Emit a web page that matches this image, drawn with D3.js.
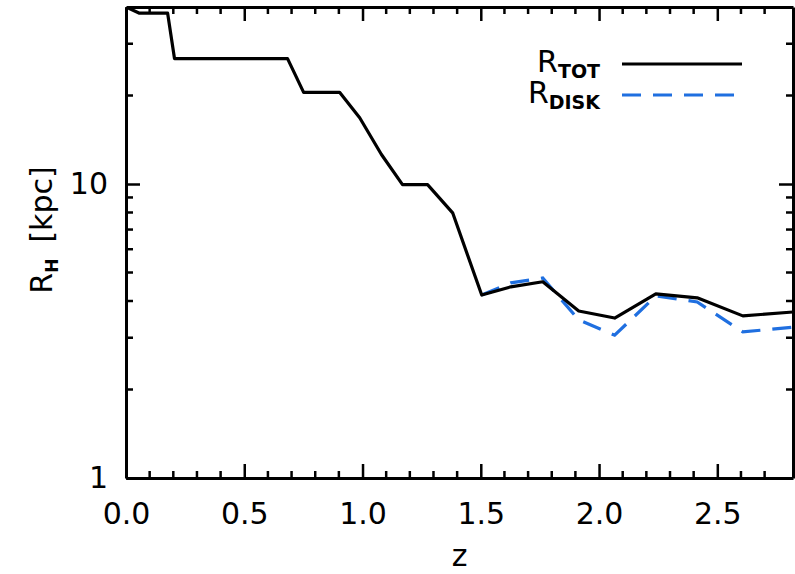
<!DOCTYPE html>
<html>
<head>
<meta charset="utf-8">
<script src="https://cdn.jsdelivr.net/npm/d3@7"></script>
<style>
  body { margin: 0; background: #fff; }
  svg text { font-family: "DejaVu Sans", sans-serif; fill: #000; }
</style>
</head>
<body>
<div id="chart"></div>
<script>
// R_tot vs redshift
const zTot = [0.0, 0.057, 0.176, 0.205, 0.683, 0.751, 0.903, 0.988, 1.080, 1.169, 1.275, 1.381, 1.504, 1.627, 1.762, 1.914, 2.066, 2.240, 2.415, 2.608, 2.82];
const rTot = [40, 38.1, 38.1, 26.7, 26.7, 20.5, 20.5, 16.8, 12.6, 9.95, 9.95, 7.98, 4.19, 4.47, 4.65, 3.70, 3.50, 4.23, 4.10, 3.56, 3.67];
// R_disk only exists from z ~ 1.5
const zDisk = [1.504, 1.627, 1.762, 1.914, 2.066, 2.240, 2.415, 2.608, 2.82];
const rDisk = [4.19, 4.61, 4.79, 3.45, 3.06, 4.16, 3.97, 3.14, 3.26];

const xTicks = [0.0, 0.5, 1.0, 1.5, 2.0, 2.5];
const yTicks = [1, 10];

const W = 795, H = 574;
const m = {left: 126, right: 2, top: 7, bottom: 96};

const svg = d3.select("#chart").append("svg")
  .attr("width", W)
  .attr("height", H);

const x = d3.scaleLinear()
  .domain([0, 2.82])
  .range([m.left, W - m.right]);
const y = d3.scaleLog()
  .domain([1, 40])
  .range([H - m.bottom, m.top]);

svg.append("defs").append("clipPath")
  .attr("id", "clip")
  .append("rect")
  .attr("x", m.left).attr("y", m.top)
  .attr("width", W - m.right - m.left)
  .attr("height", H - m.bottom - m.top);

const minorX = d3.range(0, 28).map(d => d / 10).filter(d => xTicks.indexOf(d) < 0);
const minorY = [2, 3, 4, 5, 6, 7, 8, 9, 20, 30];

// bottom axis
const xAxis = d3.axisBottom(x).tickValues(xTicks).tickFormat(d3.format(".1f"))
  .tickSizeInner(-14).tickSizeOuter(0).tickPadding(25);
const gx = svg.append("g")
  .attr("transform", "translate(0," + (H - m.bottom) + ")")
  .call(xAxis);
gx.append("g").selectAll("line")
  .data(minorX).enter().append("line")
  .attr("x1", d => x(d)).attr("x2", d => x(d))
  .attr("y1", 0).attr("y2", -7);

// top axis, ticks only
const gxt = svg.append("g")
  .attr("transform", "translate(0," + m.top + ")")
  .call(d3.axisTop(x).tickValues(xTicks).tickFormat("").tickSizeInner(-14).tickSizeOuter(0));
gxt.append("g").selectAll("line")
  .data(minorX).enter().append("line")
  .attr("x1", d => x(d)).attr("x2", d => x(d))
  .attr("y1", 0).attr("y2", 7);

// left axis
const yAxis = d3.axisLeft(y).tickValues(yTicks).tickFormat(d3.format("d"))
  .tickSizeInner(-14).tickSizeOuter(0).tickPadding(18);
const gy = svg.append("g")
  .attr("transform", "translate(" + m.left + ",0)")
  .call(yAxis);
gy.append("g").selectAll("line")
  .data(minorY).enter().append("line")
  .attr("y1", d => y(d)).attr("y2", d => y(d))
  .attr("x1", 0).attr("x2", 7);

// right axis, ticks only
const gyr = svg.append("g")
  .attr("transform", "translate(" + (W - m.right) + ",0)")
  .call(d3.axisRight(y).tickValues(yTicks).tickFormat("").tickSizeInner(-14).tickSizeOuter(0));
gyr.append("g").selectAll("line")
  .data(minorY).enter().append("line")
  .attr("y1", d => y(d)).attr("y2", d => y(d))
  .attr("x1", 0).attr("x2", -7);

svg.selectAll(".domain").attr("stroke", "#000").attr("stroke-width", 3);
svg.selectAll(".tick line").attr("stroke", "#000").attr("stroke-width", 2.5);
svg.selectAll("g g line").attr("stroke", "#000").attr("stroke-width", 2.5);
svg.selectAll(".tick text").attr("font-size", 30).attr("fill", "#000");

// curves
const line = d3.line()
  .x(d => x(d[0]))
  .y(d => y(d[1]));

const plot = svg.append("g").attr("clip-path", "url(#clip)");
plot.append("path")
  .datum(d3.zip(zDisk, rDisk))
  .attr("fill", "none")
  .attr("stroke", "#1f6fe0")
  .attr("stroke-width", 3.2)
  .attr("stroke-dasharray", "19,12")
  .attr("d", line);
plot.append("path")
  .datum(d3.zip(zTot, rTot))
  .attr("fill", "none")
  .attr("stroke", "#000")
  .attr("stroke-width", 3.2)
  .attr("stroke-linejoin", "round")
  .attr("d", line);

// axis titles
svg.append("text")
  .attr("x", x(1.41)).attr("y", 566)
  .attr("text-anchor", "middle")
  .attr("font-size", 30)
  .text("z");

const ylab = svg.append("text")
  .attr("transform", "translate(52,230) rotate(-90)")
  .attr("text-anchor", "middle")
  .attr("font-size", 30);
ylab.append("tspan").text("R");
ylab.append("tspan").attr("font-size", 17).attr("font-weight", "bold").attr("dy", 6).text("H");
ylab.append("tspan").attr("dy", -6).attr("dx", 16).text("[kpc]");

// legend
const legend = svg.append("g");
const items = [
  {name: "TOT", y: 64, color: "#000", dash: null, end: 742},
  {name: "DISK", y: 95, color: "#1f6fe0", dash: "19,12", end: 736}
];
items.forEach(function(it) {
  const t = legend.append("text")
    .attr("x", 600).attr("y", it.y + 8)
    .attr("text-anchor", "end")
    .attr("font-size", 30);
  t.append("tspan").text("R");
  t.append("tspan").attr("font-size", 19).attr("font-weight", "bold").attr("dy", 6).text(it.name);
  legend.append("line")
    .attr("x1", 622).attr("x2", it.end)
    .attr("y1", it.y).attr("y2", it.y)
    .attr("stroke", it.color)
    .attr("stroke-width", 3.2)
    .attr("stroke-dasharray", it.dash);
});
</script>
</body>
</html>
